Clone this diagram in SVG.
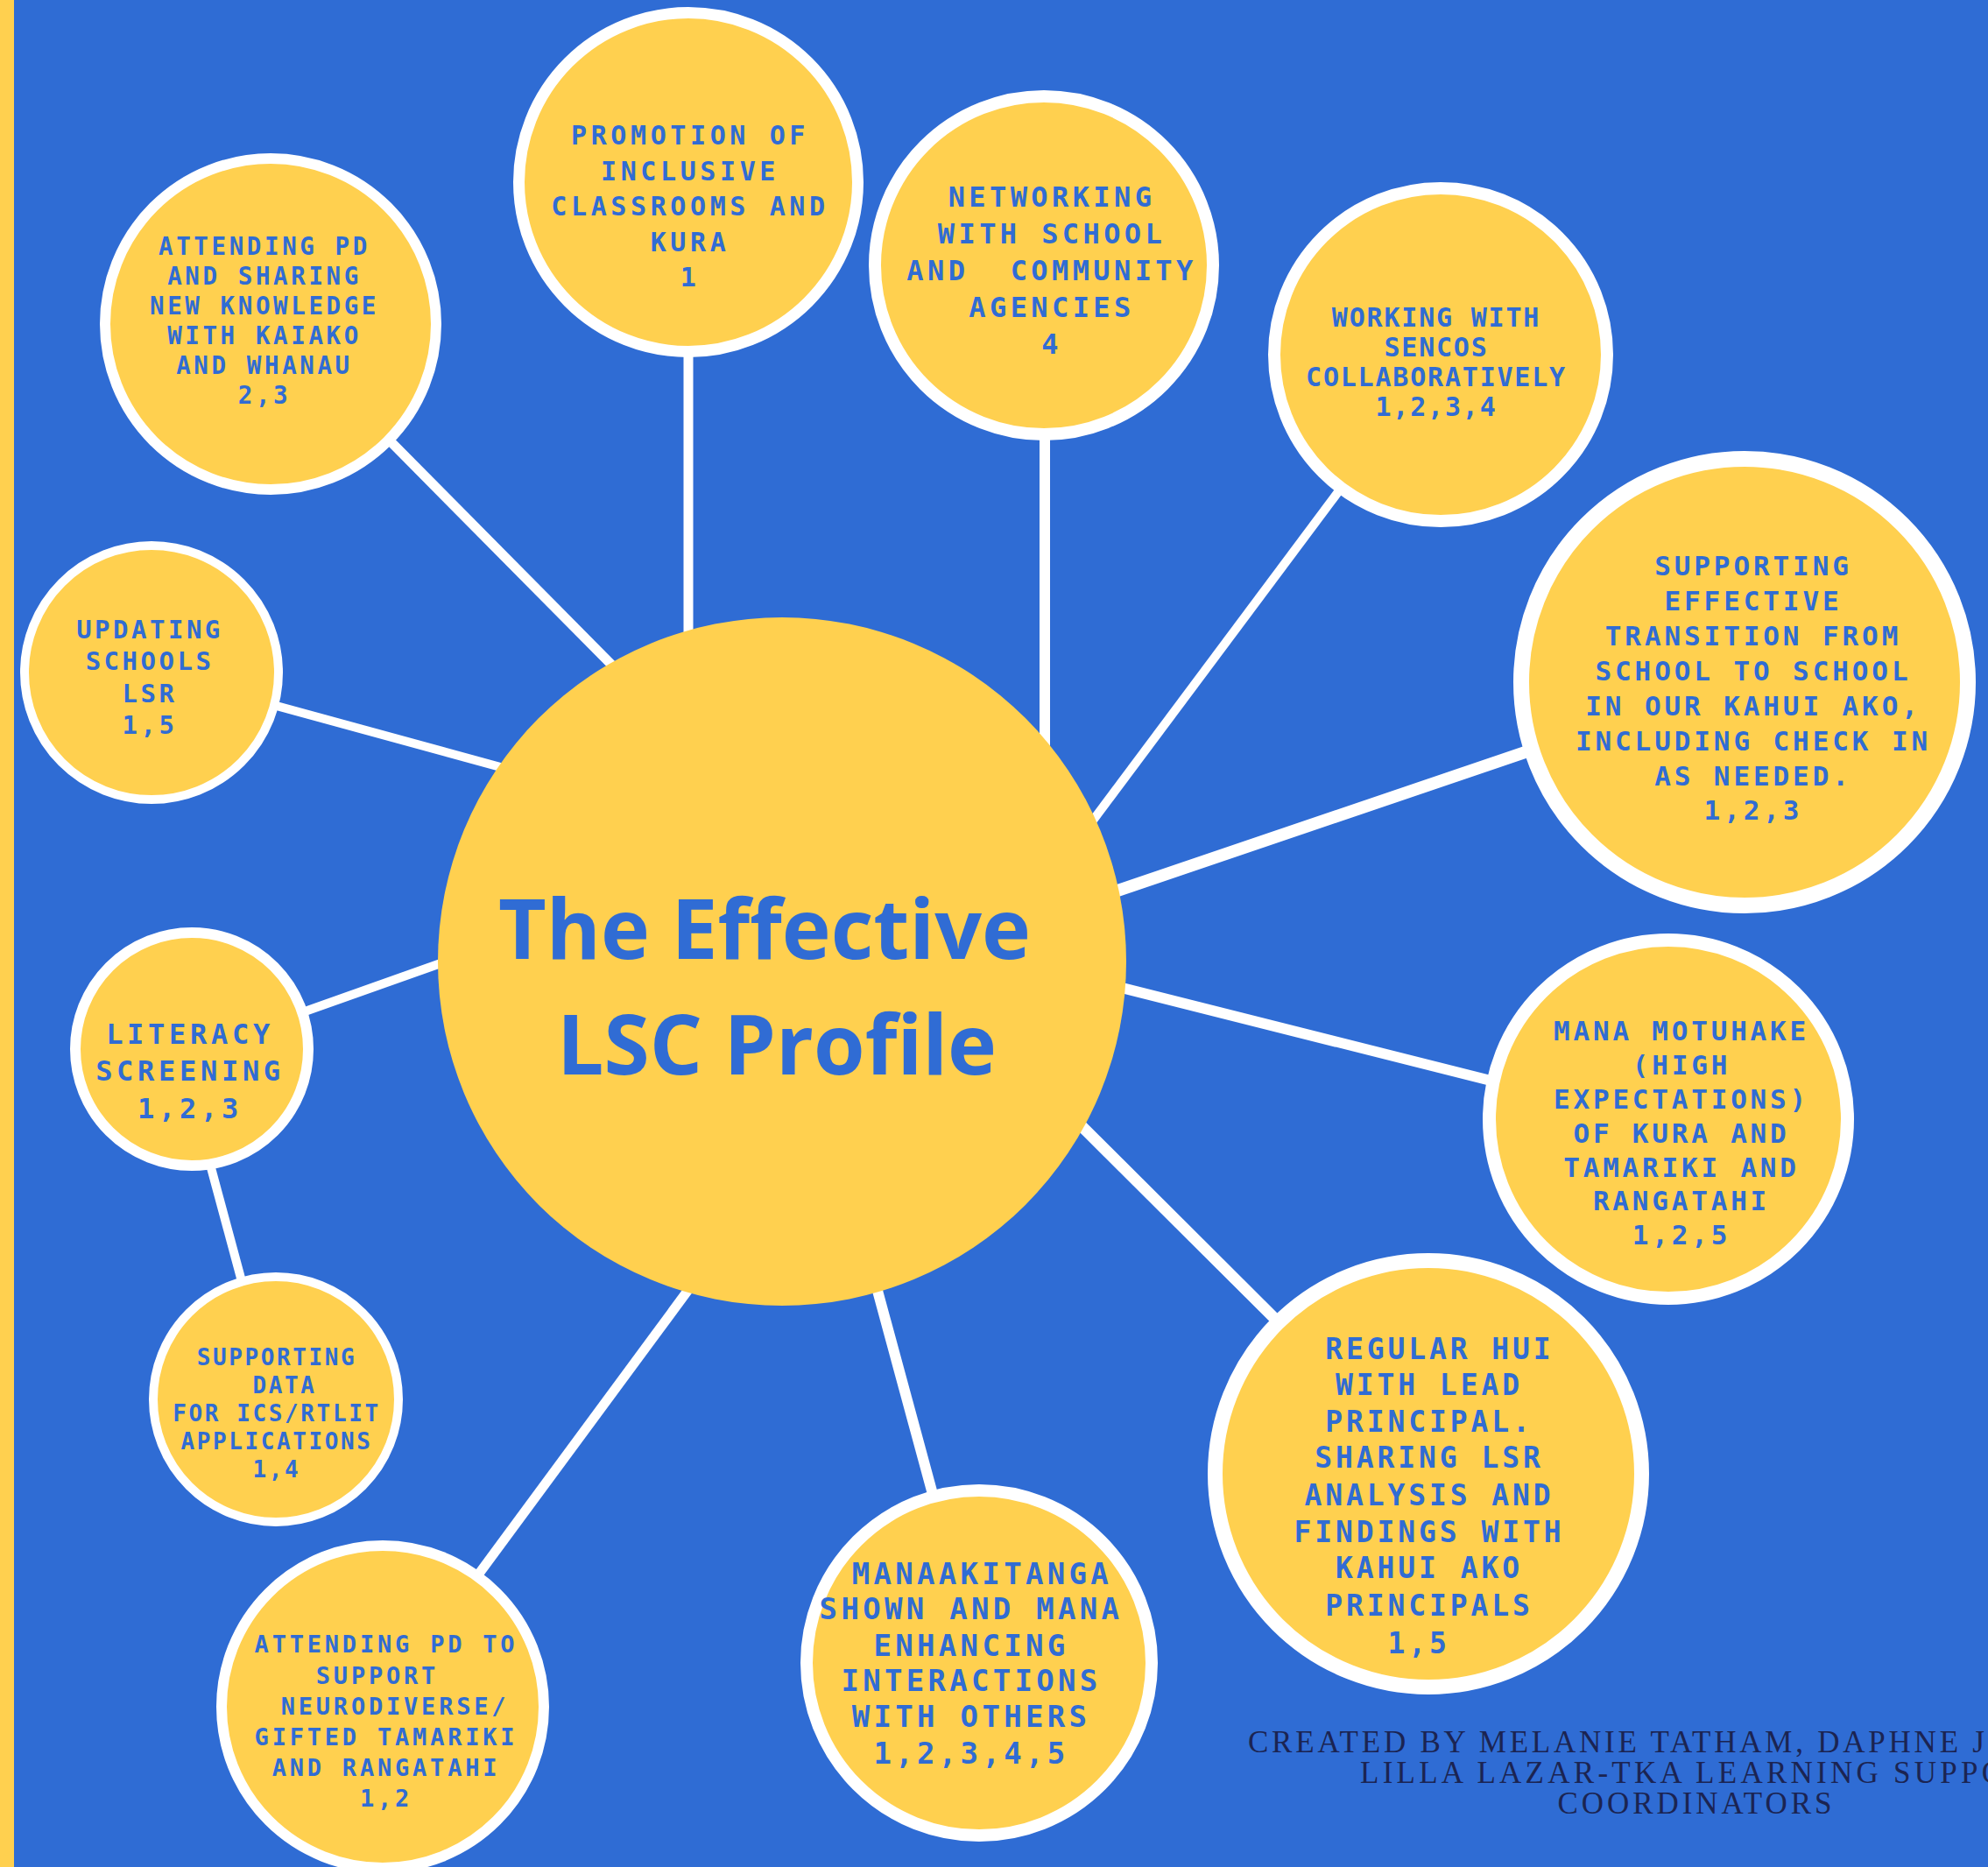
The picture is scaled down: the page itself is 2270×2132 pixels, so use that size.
<svg xmlns="http://www.w3.org/2000/svg" width="2270" height="2132" viewBox="0 0 2270 2132">
<style>
.node circle{fill:#FFD04F;stroke:#FFFFFF}
.t{font-family:"DejaVu Sans Mono","Liberation Mono",monospace;font-weight:bold;fill:#306CD4;text-anchor:middle}
.conn line{stroke:#FFFFFF;stroke-linecap:butt}
.title{font-family:"Open Sans","Liberation Sans",sans-serif;font-weight:bold;fill:#306CD4;text-anchor:middle;font-size:95px}
.foot{font-family:"Liberation Serif",serif;fill:#1B2452;font-size:35px}
</style>
<rect x="0" y="0" width="2270" height="2132" fill="#2F6CD4"/>
<rect x="0" y="0" width="16" height="2132" fill="#FFD04F"/>
<g id="connectors" class="conn">
<line x1="786" y1="208" x2="786" y2="800" stroke-width="11"/>
<line x1="1193" y1="303" x2="1193" y2="950" stroke-width="12"/>
<line x1="1645" y1="405" x2="1227" y2="965" stroke-width="10"/>
<line x1="1800" y1="839" x2="1238" y2="1030" stroke-width="14"/>
<line x1="1245" y1="1119" x2="1726" y2="1240" stroke-width="12"/>
<line x1="1205" y1="1256" x2="1480" y2="1530" stroke-width="13"/>
<line x1="992" y1="1437" x2="1072" y2="1732" stroke-width="12"/>
<line x1="808" y1="1443" x2="530" y2="1820" stroke-width="11"/>
<line x1="236" y1="1315" x2="280" y2="1478" stroke-width="10"/>
<line x1="540" y1="1087" x2="320" y2="1165" stroke-width="10"/>
<line x1="608" y1="886" x2="290" y2="799" stroke-width="10"/>
<line x1="725" y1="786" x2="425" y2="483" stroke-width="11"/>
</g>
<g id="center" class="node">
<circle cx="893" cy="1098" r="393" style="stroke:none"/>
<text class="title" x="873" y="1095" textLength="608" lengthAdjust="spacingAndGlyphs">The Effective</text>
<text class="title" x="887" y="1227" textLength="502" lengthAdjust="spacingAndGlyphs">LSC Profile</text>
</g>
<g id="n-promotion" class="node">
<circle cx="786" cy="208" r="193.5" stroke-width="13"/>
<text class="t" style="font-size:30px;letter-spacing:4.6px"><tspan x="788" y="165">PROMOTION OF</tspan><tspan x="788" y="205.5">INCLUSIVE</tspan><tspan x="788" y="246">CLASSROOMS AND</tspan><tspan x="788" y="286.5">KURA</tspan><tspan x="788" y="327">1</tspan></text>
</g>
<g id="n-sharing" class="node">
<circle cx="309" cy="370" r="189" stroke-width="12"/>
<text class="t" style="font-size:27.5px;letter-spacing:3.6px"><tspan x="302" y="291">ATTENDING PD</tspan><tspan x="302" y="325">AND SHARING</tspan><tspan x="302" y="359">NEW KNOWLEDGE</tspan><tspan x="302" y="393">WITH KAIAKO</tspan><tspan x="302" y="427">AND WHANAU</tspan><tspan x="302" y="461">2,3</tspan></text>
</g>
<g id="n-networking" class="node">
<circle cx="1192" cy="303" r="193" stroke-width="14"/>
<text class="t" xml:space="preserve" style="font-size:32px;letter-spacing:4.4px"><tspan x="1201" y="236">NETWORKING</tspan><tspan x="1201" y="278">WITH SCHOOL</tspan><tspan x="1201" y="320">AND  COMMUNITY</tspan><tspan x="1201" y="362">AGENCIES</tspan><tspan x="1201" y="404">4</tspan></text>
</g>
<g id="n-sencos" class="node">
<circle cx="1645" cy="405" r="190" stroke-width="14"/>
<text class="t" style="font-size:30px;letter-spacing:1.8px"><tspan x="1640" y="373">WORKING WITH</tspan><tspan x="1640" y="407">SENCOS</tspan><tspan x="1640" y="441">COLLABORATIVELY</tspan><tspan x="1640" y="475">1,2,3,4</tspan></text>
</g>
<g id="n-transition" class="node">
<circle cx="1992" cy="779" r="255" stroke-width="18"/>
<text class="t" style="font-size:31px;letter-spacing:3.9px"><tspan x="2002" y="657">SUPPORTING</tspan><tspan x="2002" y="697">EFFECTIVE</tspan><tspan x="2002" y="737">TRANSITION FROM</tspan><tspan x="2002" y="777">SCHOOL TO SCHOOL</tspan><tspan x="2002" y="817">IN OUR KAHUI AKO,</tspan><tspan x="2002" y="857">INCLUDING CHECK IN</tspan><tspan x="2002" y="897">AS NEEDED.</tspan><tspan x="2002" y="936">1,2,3</tspan></text>
</g>
<g id="n-mana-motuhake" class="node">
<circle cx="1905" cy="1278" r="204.5" stroke-width="15"/>
<text class="t" style="font-size:31px;letter-spacing:3.8px"><tspan x="1920" y="1188">MANA MOTUHAKE</tspan><tspan x="1920" y="1227">(HIGH</tspan><tspan x="1920" y="1266">EXPECTATIONS)</tspan><tspan x="1920" y="1305">OF KURA AND</tspan><tspan x="1920" y="1344">TAMARIKI AND</tspan><tspan x="1920" y="1382">RANGATAHI</tspan><tspan x="1920" y="1421">1,2,5</tspan></text>
</g>
<g id="n-regular-hui" class="node">
<circle cx="1631" cy="1683" r="243.5" stroke-width="17"/>
<text class="t" xml:space="preserve" style="font-size:33px;letter-spacing:3.9px"><tspan x="1632" y="1552"> REGULAR HUI</tspan><tspan x="1632" y="1593">WITH LEAD</tspan><tspan x="1632" y="1635">PRINCIPAL.</tspan><tspan x="1632" y="1676">SHARING LSR</tspan><tspan x="1632" y="1719">ANALYSIS AND</tspan><tspan x="1632" y="1761">FINDINGS WITH</tspan><tspan x="1632" y="1802">KAHUI AKO</tspan><tspan x="1632" y="1845">PRINCIPALS</tspan><tspan x="1632" y="1888">1,5 </tspan></text>
</g>
<g id="n-manaakitanga" class="node">
<circle cx="1118" cy="1899" r="197" stroke-width="14"/>
<text class="t" xml:space="preserve" style="font-size:34px;letter-spacing:4.3px"><tspan x="1109" y="1809"> MANAAKITANGA</tspan><tspan x="1109" y="1849">SHOWN AND MANA</tspan><tspan x="1109" y="1891">ENHANCING</tspan><tspan x="1109" y="1931">INTERACTIONS</tspan><tspan x="1109" y="1972">WITH OTHERS</tspan><tspan x="1109" y="2014">1,2,3,4,5</tspan></text>
</g>
<g id="n-neurodiverse" class="node">
<circle cx="437" cy="1949" r="184" stroke-width="12"/>
<text class="t" xml:space="preserve" style="font-size:27px;letter-spacing:3.8px"><tspan x="441" y="1887">ATTENDING PD TO</tspan><tspan x="441" y="1923">SUPPORT </tspan><tspan x="441" y="1958"> NEURODIVERSE/</tspan><tspan x="441" y="1993">GIFTED TAMARIKI</tspan><tspan x="441" y="2028">AND RANGATAHI</tspan><tspan x="441" y="2063">1,2</tspan></text>
</g>
<g id="n-supporting-data" class="node">
<circle cx="315" cy="1598" r="140" stroke-width="10"/>
<text class="t" xml:space="preserve" style="font-size:26px;letter-spacing:2.6px"><tspan x="316" y="1559">SUPPORTING</tspan><tspan x="316" y="1591"> DATA</tspan><tspan x="316" y="1623">FOR ICS/RTLIT</tspan><tspan x="316" y="1655">APPLICATIONS</tspan><tspan x="316" y="1687">1,4</tspan></text>
</g>
<g id="n-literacy" class="node">
<circle cx="219" cy="1198" r="133" stroke-width="12"/>
<text class="t" style="font-size:32px;letter-spacing:4.7px"><tspan x="217" y="1192">LITERACY</tspan><tspan x="217" y="1234">SCREENING</tspan><tspan x="217" y="1277">1,2,3</tspan></text>
</g>
<g id="n-updating" class="node">
<circle cx="173" cy="768" r="145" stroke-width="10"/>
<text class="t" style="font-size:29px;letter-spacing:3.5px"><tspan x="171" y="729">UPDATING</tspan><tspan x="171" y="765">SCHOOLS</tspan><tspan x="171" y="802">LSR</tspan><tspan x="171" y="838">1,5</tspan></text>
</g>
<g id="footer">
<text class="foot" x="1425" y="2001" textLength="870" lengthAdjust="spacing">CREATED BY MELANIE TATHAM, DAPHNE JO</text>
<text class="foot" x="1553" y="2036" textLength="735" lengthAdjust="spacing">LILLA LAZAR-TKA LEARNING SUPPO</text>
<text class="foot" x="1935" y="2071" text-anchor="middle" textLength="313" lengthAdjust="spacing">COORDINATORS</text>
</g>
</svg>
